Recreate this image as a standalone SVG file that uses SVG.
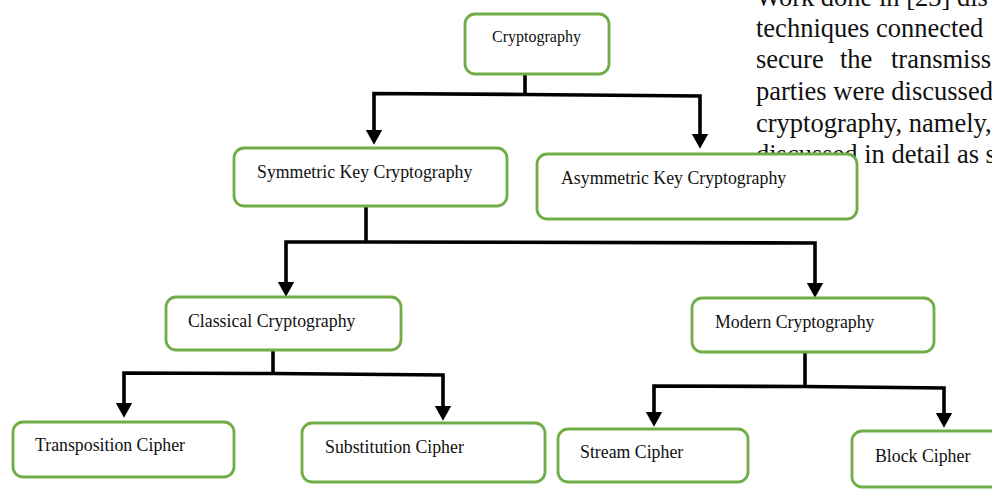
<svg xmlns="http://www.w3.org/2000/svg" width="992" height="489" viewBox="0 0 992 489">
<style>
.box{fill:#fff;stroke:#70AD47;stroke-width:2.8}
.lbl{font-family:"Liberation Serif","Times New Roman",serif;font-size:17.8px;fill:#111}
.body{font-family:"Liberation Serif","Times New Roman",serif;font-size:26.5px;fill:#111}
.con{fill:none;stroke:#000;stroke-width:3.6;stroke-linejoin:miter}
</style>
<defs>
<marker id="arr" markerUnits="userSpaceOnUse" markerWidth="16" markerHeight="18" viewBox="0 -8 15 16" refX="4" refY="0" orient="auto">
<path d="M0,-7.8 L14,0 L0,7.8 Z" fill="#000"/>
</marker>
</defs>
<rect width="992" height="489" fill="#fff"/>
<g id="bodytext" class="body">
<text x="756" y="6">Work done in [23] dis</text>
<text x="756" y="37">techniques connected</text>
<text y="68"><tspan x="756">secure</tspan><tspan x="840">the</tspan><tspan x="891">transmiss</tspan></text>
<text x="756" y="100">parties were discussed</text>
<text x="756" y="132">cryptography, namely,</text>
<text x="756" y="163">discussed in detail as s</text>
</g>
<g id="connectors">
<path class="con" d="M525,74 L525,95"/>
<path class="con" d="M525,94.5 L374,93.5 L374,134" marker-end="url(#arr)"/>
<path class="con" d="M525,94.5 L700,96 L700,138" marker-end="url(#arr)"/>
<path class="con" d="M366,206 L366,243"/>
<path class="con" d="M366,242 L286,242 L286,286" marker-end="url(#arr)"/>
<path class="con" d="M366,242 L815,243 L815,287" marker-end="url(#arr)"/>
<path class="con" d="M273,350 L273,374"/>
<path class="con" d="M273,373.5 L124,373 L124,407" marker-end="url(#arr)"/>
<path class="con" d="M273,373.5 L443,375 L443,410" marker-end="url(#arr)"/>
<path class="con" d="M805,352 L805,387"/>
<path class="con" d="M805,386.5 L654,386 L654,416" marker-end="url(#arr)"/>
<path class="con" d="M805,386.5 L944,388 L944,417" marker-end="url(#arr)"/>
</g>
<g id="cryptography">
<rect class="box" x="465" y="14" width="144" height="60" rx="10"/>
<text class="lbl" x="492" y="42" style="font-size:16px">Cryptography</text>
</g>
<g id="symmetric">
<rect class="box" x="234" y="148" width="273" height="58" rx="10"/>
<text class="lbl" x="257" y="178">Symmetric Key Cryptography</text>
</g>
<g id="asymmetric">
<rect class="box" x="537" y="154" width="320" height="65" rx="10"/>
<text class="lbl" x="561" y="184">Asymmetric Key Cryptography</text>
</g>
<g id="classical">
<rect class="box" x="166" y="297" width="235" height="53" rx="10"/>
<text class="lbl" x="188" y="327">Classical Cryptography</text>
</g>
<g id="modern">
<rect class="box" x="692" y="298" width="242" height="54" rx="10"/>
<text class="lbl" x="715" y="328">Modern Cryptography</text>
</g>
<g id="transposition">
<rect class="box" x="13" y="422" width="221" height="55" rx="10"/>
<text class="lbl" x="35" y="451">Transposition Cipher</text>
</g>
<g id="substitution">
<rect class="box" x="302" y="423" width="243" height="59" rx="10"/>
<text class="lbl" x="325" y="453">Substitution Cipher</text>
</g>
<g id="stream">
<rect class="box" x="558" y="429" width="190" height="53" rx="10"/>
<text class="lbl" x="580" y="458">Stream Cipher</text>
</g>
<g id="block">
<rect class="box" x="852" y="431" width="160" height="56" rx="10"/>
<text class="lbl" x="875" y="462">Block Cipher</text>
</g>
</svg>
